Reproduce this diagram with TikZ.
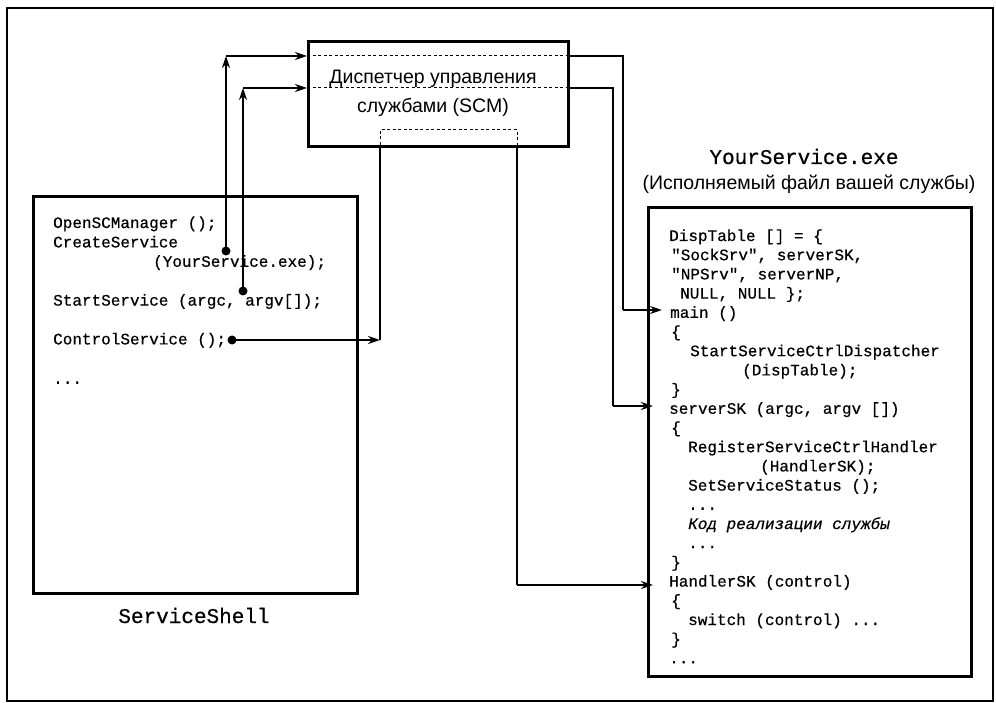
\documentclass[tikz,border=0pt]{standalone}
\usepackage{fontspec}
\usetikzlibrary{arrows.meta}
\newfontfamily\codefont[FakeBold=0.5]{Liberation Mono}
\newfontfamily\labelsans{Liberation Sans}
\begin{document}
\begin{tikzpicture}[x=1pt,y=-1pt,
  codeline/.style={font=\codefont\fontsize{16}{19}\selectfont, anchor=base west, inner sep=0pt},
  biglabel/.style={font=\codefont\fontsize{21}{24}\selectfont, anchor=base, inner sep=0pt},
  sanslabel/.style={font=\labelsans\fontsize{19.5}{22}\selectfont, anchor=base, inner sep=0pt},
  boxframe/.style={draw, line width=3.2pt, inner sep=0pt, anchor=north west},
  conn/.style={line width=2.6pt},
  arr/.style={conn, -{Stealth[length=12pt,width=8pt]}},
  dotnode/.style={circle, fill, inner sep=0pt, minimum size=9pt},
  thin dash/.style={line width=1pt, dash pattern=on 3pt off 2.5pt}
]
\useasboundingbox (0,0) rectangle (996,703);
% outer frame
\draw[line width=1.8pt] (7,8) rectangle (993,701);

% SCM box
\node[boxframe, minimum width=260pt, minimum height=105pt] (scm) at (307,40) {};
\draw[thin dash] (307,56) -- (567,56);
\draw[thin dash] (307,88) -- (567,88);
\draw[thin dash] (380,145) -- (380,130) -- (517,130) -- (517,145);
\node[sanslabel] (scmt1) at (433,84) {Диспетчер управления};
\node[sanslabel] (scmt2) at (433,113) {службами (SCM)};

% left box
\node[boxframe, minimum width=324pt, minimum height=397pt] (shell) at (32,195) {};
\node[biglabel] (shelllbl) at (194,623) {ServiceShell};
\node[codeline] (s1) at (53,228) {OpenSCManager ();};
\node[codeline] (s2) at (53,247.4) {CreateService};
\node[codeline] (s3) at (153,266.8) {(YourService.exe);};
\node[codeline] (s4) at (53,305.6) {StartService (argc, argv[]);};
\node[codeline] (s5) at (53,344.4) {ControlService ();};
\node[codeline] (s6) at (53,383.8) {...};

% right box
\node[biglabel] (exet1) at (804,164) {YourService.exe};
\node[sanslabel] (exet2) at (809,190) {(Исполняемый файл вашей службы)};
\node[boxframe, minimum width=323pt, minimum height=469pt] (exe) at (647,206) {};
\node[codeline] (e0) at (669,241) {DispTable [] = \{};
\node[codeline] (e1) at (671,260.2) {"SockSrv", serverSK,};
\node[codeline] (e2) at (671,279.4) {"NPSrv", serverNP,};
\node[codeline] (e3) at (680,298.6) {NULL, NULL \};};
\node[codeline] (e4) at (670,317.8) {main ()};
\node[codeline] (e5) at (671,337) {\{};
\node[codeline] (e6) at (690,356.2) {StartServiceCtrlDispatcher};
\node[codeline] (e7) at (742,375.4) {(DispTable);};
\node[codeline] (e8) at (671,394.6) {\}};
\node[codeline] (e9) at (669,413.8) {serverSK (argc, argv [])};
\node[codeline] (e10) at (671,433) {\{};
\node[codeline] (e11) at (688,452.2) {RegisterServiceCtrlHandler};
\node[codeline] (e12) at (760,471.4) {(HandlerSK);};
\node[codeline] (e13) at (688,490.6) {SetServiceStatus ();};
\node[codeline] (e14) at (688,509.8) {...};
\node[codeline,font=\codefont\itshape\fontsize{16}{19}\selectfont] (e15) at (688,529) {Код реализации службы};
\node[codeline] (e16) at (688,548.2) {...};
\node[codeline] (e17) at (671,567.4) {\}};
\node[codeline] (e18) at (669,586.6) {HandlerSK (control)};
\node[codeline] (e19) at (671,605.8) {\{};
\node[codeline] (e20) at (688,625) {switch (control) ...};
\node[codeline] (e21) at (671,644.2) {\}};
\node[codeline] (e22) at (669,663.4) {...};

% dots
\node[dotnode] (d1) at (226,251) {};
\node[dotnode] (d2) at (243,291) {};
\node[dotnode] (d3) at (232,340) {};

% corners
\coordinate (c1) at (226,56);
\coordinate (c2) at (243,88);
\coordinate (c3) at (380,340);
\coordinate (r1) at (623,56);
\coordinate (r1b) at (623,310);
\coordinate (t1) at (662,310);
\coordinate (r2) at (613,88);
\coordinate (r2b) at (613,406);
\coordinate (t2) at (653,406);
\coordinate (r3) at (517,585);
\coordinate (t3) at (653,585);

% connectors
\draw[arr] (d1.center) -- (c1);
\draw[arr] (c1) -- (scm.west |- c1);
\draw[arr] (d2.center) -- (c2);
\draw[arr] (c2) -- (scm.west |- c2);
\draw[arr] (d3.center) -- (c3);
\draw[conn] (c3) -- (c3 |- scm.south);
\draw[conn] (scm.east |- r1) -- (r1) -- (r1b);
\draw[arr] (r1b) -- (t1);
\draw[conn] (scm.east |- r2) -- (r2) -- (r2b);
\draw[arr] (r2b) -- (t2);
\draw[conn] (r3 |- scm.south) -- (r3);
\draw[arr] (r3) -- (t3);
\end{tikzpicture}
\end{document}
